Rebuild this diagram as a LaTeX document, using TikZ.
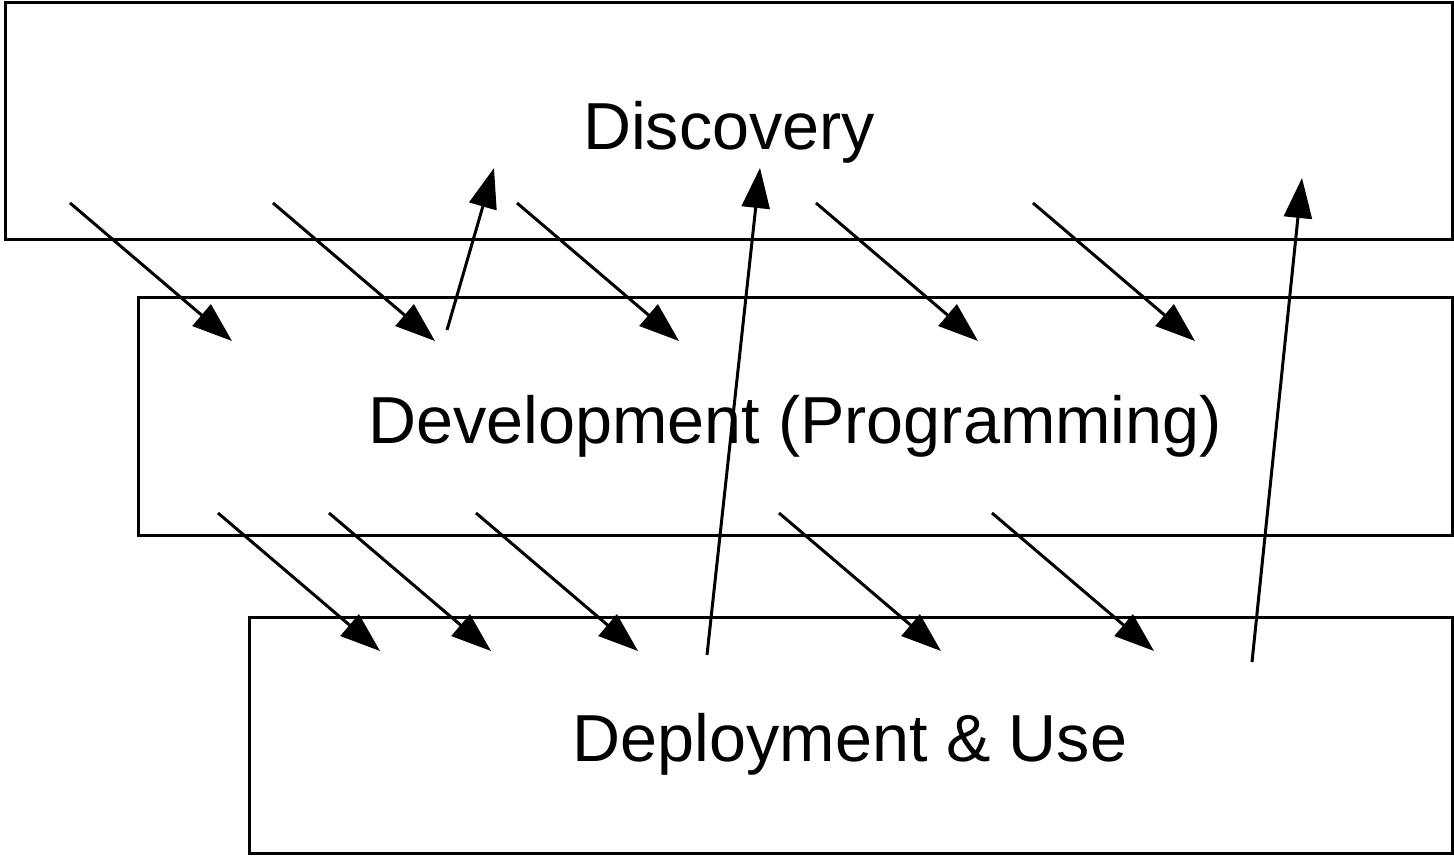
\documentclass[tikz,border=0pt]{standalone}
\usepackage{fontspec}
\setmainfont{Liberation Sans}
\usetikzlibrary{arrows.meta}
\begin{document}
\begin{tikzpicture}[x=1pt,y=-1pt,
  box/.style={draw,line width=3pt},
  lbl/.style={font=\fontsize{66.5}{78}\selectfont},
  arr/.style={line width=3pt,-{Triangle[length=40pt,width=28pt]}}]
\useasboundingbox (0,0) rectangle (1454,858);
\draw[box] (5,3) rectangle (1452,240);
\draw[box] (138,298) rectangle (1452,535);
\draw[box] (249,617) rectangle (1452,853);
\node[lbl] (disc) at (729,132) {Discovery};
\node[lbl] (dev) at (795,426) {Development (Programming)};
\node[lbl] (dep) at (850,744) {Deployment \& Use};
\foreach \x [count=\i] in {70,273,517,816,1033}{
  \coordinate (a\i) at (\x,203); \coordinate (b\i) at (\x+162,341);
  \draw[arr] (a\i) -- (b\i);}
\foreach \x [count=\i] in {218,329,476,779,992}{
  \coordinate (c\i) at (\x,513); \coordinate (d\i) at (\x+162,651);
  \draw[arr] (c\i) -- (d\i);}
\coordinate (u1) at (447,330); \coordinate (v1) at (494,168);
\coordinate (u2) at (707,655); \coordinate (v2) at (760,168);
\coordinate (u3) at (1252,662); \coordinate (v3) at (1302,178);
\draw[arr] (u1) -- (v1);
\draw[arr] (u2) -- (v2);
\draw[arr] (u3) -- (v3);
\end{tikzpicture}
\end{document}
